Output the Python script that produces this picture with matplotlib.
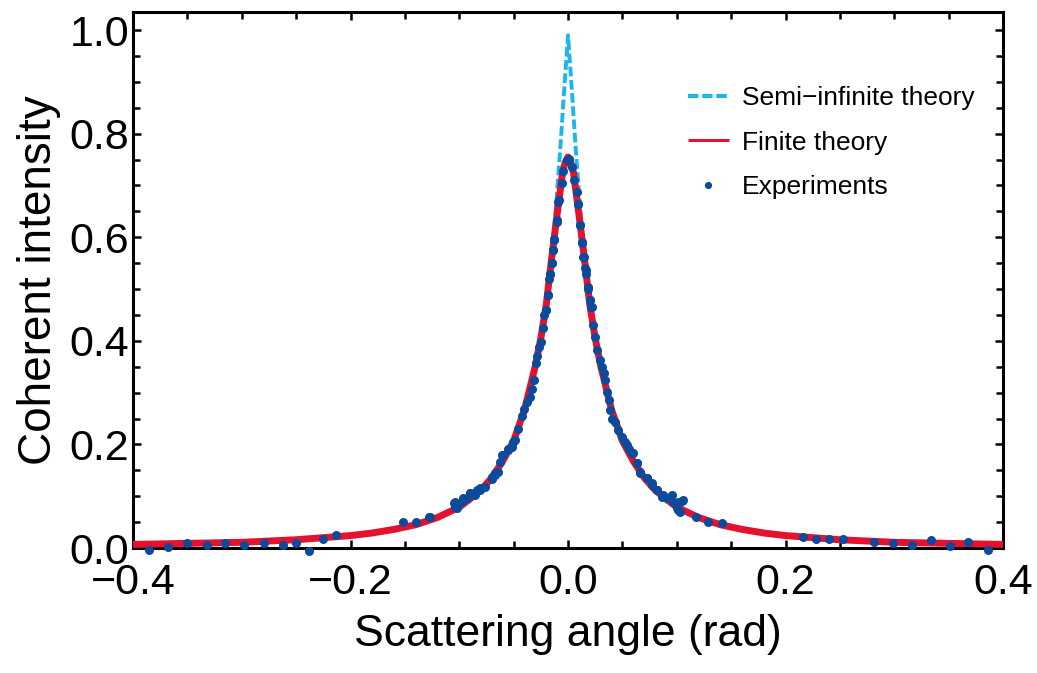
import matplotlib.pyplot as plt
from matplotlib.ticker import MultipleLocator

plt.rcParams['font.family'] = ['Liberation Sans', 'DejaVu Sans']

# finite-slab theory (one side, mirrored below)
fin_x = [0.0, 0.0025, 0.005, 0.01, 0.015, 0.02, 0.025, 0.03, 0.04, 0.05, 0.06, 0.07,
         0.08, 0.09, 0.10, 0.12, 0.14, 0.16, 0.18, 0.20, 0.25, 0.30, 0.35, 0.40]
fin_y = [0.755, 0.745, 0.725, 0.645, 0.56, 0.47, 0.405, 0.352, 0.267, 0.207, 0.168, 0.136,
         0.112, 0.095, 0.079, 0.059, 0.045, 0.036, 0.029, 0.024, 0.016, 0.011, 0.009, 0.007]

# semi-infinite theory: sharp cusp at 0, joins the finite curve further out
semi_x = [0.0, 0.002, 0.004, 0.006, 0.008, 0.010, 0.012, 0.015, 0.02, 0.025, 0.03, 0.04,
          0.05, 0.06, 0.07, 0.08, 0.09, 0.10, 0.12, 0.14, 0.16, 0.18, 0.20, 0.25, 0.30,
          0.35, 0.40]
semi_y = [0.99, 0.93, 0.87, 0.805, 0.745, 0.69, 0.635, 0.565, 0.472, 0.406, 0.353, 0.268,
          0.208, 0.169, 0.137, 0.113, 0.096, 0.080, 0.060, 0.046, 0.037, 0.030, 0.025,
          0.017, 0.012, 0.010, 0.008]

# experimental points
exp_x = [-0.385, -0.3675, -0.350, -0.332, -0.315, -0.298, -0.280, -0.262, -0.250, -0.238,
         -0.2255, -0.213, -0.152, -0.140, -0.1275, -0.1269, -0.105, -0.1024, -0.104, -0.104,
         -0.0977, -0.0963, -0.0931, -0.090, -0.090, -0.0855, -0.084, -0.081, -0.081, -0.0763,
         -0.0702, -0.0702, -0.0671, -0.0671, -0.064, -0.0625, -0.061, -0.0595, -0.0549, -0.0549,
         -0.0518, -0.0503, -0.0487, -0.0457, -0.0426, -0.0402, -0.0374, -0.0349, -0.0328, -0.0313,
         -0.0294, -0.0282, -0.0264, -0.0251, -0.0227, -0.0218, -0.0205, -0.0205, -0.0187, -0.0181,
         -0.0175, -0.0166, -0.0166, -0.015, -0.015, -0.0141, -0.0141, -0.0129, -0.0126, -0.0104,
         -0.0104, -0.0089, -0.008, -0.0058, -0.0043, -0.0012, 0.0012,
         0.0034, 0.0055, 0.008, 0.0095, 0.0095, 0.011, 0.011, 0.0126, 0.0132, 0.0141, 0.0147,
         0.0156, 0.0166, 0.0166, 0.0187, 0.0187, 0.0202, 0.0202, 0.0211, 0.0218, 0.0233, 0.0251,
         0.0270, 0.0294, 0.031, 0.0331, 0.034, 0.0356, 0.0377, 0.0386, 0.0408, 0.0432, 0.0463,
         0.0494, 0.0524, 0.054, 0.0564, 0.0586, 0.0595, 0.0631, 0.0632, 0.0662, 0.0662, 0.0724,
         0.0724, 0.077, 0.077, 0.0816, 0.0816, 0.0862, 0.0871, 0.091, 0.0938, 0.0954, 0.0968,
         0.100, 0.1014, 0.1014, 0.103, 0.105, 0.106, 0.118, 0.129, 0.142,
         0.216, 0.228, 0.240, 0.2526, 0.281, 0.2985, 0.316, 0.3335, 0.351, 0.368, 0.3865]
exp_y = [-0.004, 0.0025, 0.009, 0.006, 0.010, 0.005, 0.010, 0.006, 0.010, -0.005,
         0.017, 0.0245, 0.050, 0.050, 0.059, 0.060, 0.087, 0.077, 0.089, 0.080,
         0.089, 0.096, 0.096, 0.106, 0.106, 0.102, 0.112, 0.115, 0.112, 0.118,
         0.133, 0.138, 0.141, 0.144, 0.147, 0.167, 0.180, 0.180, 0.189, 0.192,
         0.196, 0.205, 0.208, 0.229, 0.254, 0.268, 0.282, 0.292, 0.308, 0.324,
         0.357, 0.371, 0.389, 0.398, 0.425, 0.450, 0.459, 0.459, 0.488, 0.488,
         0.519, 0.529, 0.530, 0.550, 0.550, 0.575, 0.575, 0.595, 0.596, 0.630,
         0.633, 0.669, 0.672, 0.704, 0.727, 0.749, 0.752,
         0.736, 0.710, 0.688, 0.665, 0.665, 0.624, 0.624, 0.589, 0.591, 0.562, 0.562,
         0.540, 0.530, 0.537, 0.501, 0.504, 0.479, 0.479, 0.466, 0.466, 0.430, 0.408,
         0.382, 0.363, 0.350, 0.337, 0.324, 0.302, 0.286, 0.266, 0.250, 0.244, 0.228,
         0.215, 0.205, 0.199, 0.192, 0.183, 0.183, 0.164, 0.164, 0.147, 0.144, 0.135,
         0.135, 0.125, 0.122, 0.112, 0.112, 0.099, 0.102, 0.096, 0.099, 0.102, 0.089,
         0.077, 0.089, 0.073, 0.070, 0.091, 0.093, 0.060, 0.051, 0.048,
         0.022, 0.018, 0.018, 0.017, 0.012, 0.010, 0.006, 0.015, 0.004, 0.011, -0.004]

CYAN = '#1cb5ec'
RED = '#e5122e'
NAVY = '#0d4a9b'

fig = plt.figure(figsize=(10.37, 6.73), dpi=100)
ax = fig.add_axes([0.1283, 0.1857, 0.8389, 0.7965])

sx = [-v for v in semi_x[::-1]] + semi_x[1:]
sy = semi_y[::-1] + semi_y[1:]
fx = [-v for v in fin_x[::-1]] + fin_x[1:]
fy = fin_y[::-1] + fin_y[1:]

ax.plot(sx, sy, color=CYAN, lw=2.8, dashes=(2.5, 0.9), label='Semi\u2212infinite theory', zorder=2)
ax.plot(fx, fy, color=RED, lw=5, label='Finite theory', zorder=3, solid_capstyle='butt')
ax.plot(exp_x, exp_y, 'o', color=NAVY, ms=6.5, mew=0, label='Experiments', zorder=4, clip_on=False)

ax.set_xlim(-0.4, 0.4)
ax.set_ylim(0, 1.035)
ax.xaxis.set_major_locator(MultipleLocator(0.2))
ax.xaxis.set_minor_locator(MultipleLocator(0.05))
ax.yaxis.set_major_locator(MultipleLocator(0.2))
ax.yaxis.set_minor_locator(MultipleLocator(0.05))
ax.xaxis.set_major_formatter(lambda v, p: f'{v:.1f}'.replace('-', '\u2212'))
ax.yaxis.set_major_formatter(lambda v, p: f'{v:.1f}')

ax.tick_params(which='both', direction='in', width=1.8, labelsize=31)
ax.tick_params(which='both', top=True, right=True)
ax.tick_params(which='major', length=6)
ax.tick_params(which='minor', length=5)
ax.tick_params(axis='x', pad=11)
ax.tick_params(axis='y', pad=3)
for s in ax.spines.values():
    s.set_linewidth(2.2)

ax.set_xlabel('Scattering angle (rad)', fontsize=32, labelpad=8)
ax.set_ylabel('Coherent intensity', fontsize=33, labelpad=6)

leg = ax.legend(loc='center left', bbox_to_anchor=(0.6505, 0.788), bbox_transform=fig.transFigure,
                frameon=False, fontsize=19, handlelength=1.55, handletextpad=0.5,
                labelspacing=0.78, borderpad=0, markerscale=0.8)
hl = leg.get_lines()
hl[0].set_linewidth(3)
hl[1].set_linewidth(2.2)

fig.savefig('out.png', dpi=100)
